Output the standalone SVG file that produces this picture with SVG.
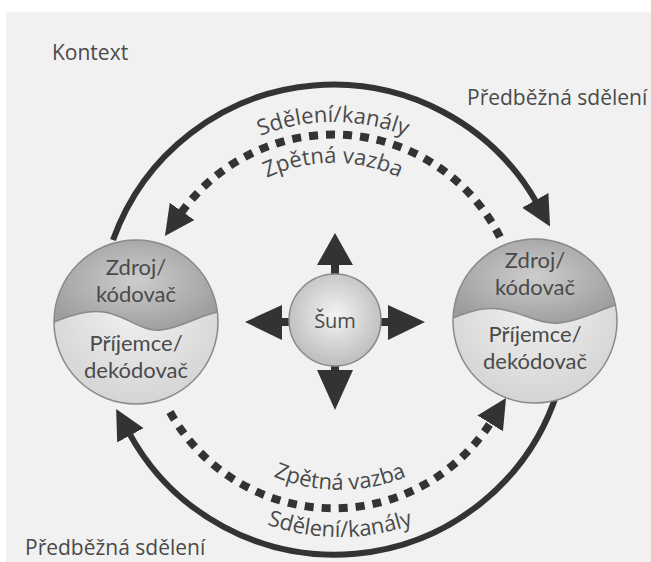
<svg xmlns="http://www.w3.org/2000/svg" width="651" height="562" viewBox="0 0 651 562">
<style>
.lbl{font-family:"Open Sans","DejaVu Sans",sans-serif;fill:#4a4a4a}
.ctx{font-size:21px}
.node{font-family:Lato,"Open Sans",sans-serif;font-size:22px;text-anchor:middle;fill:#4a4a4a}
.arc{fill:none;stroke:#333;stroke-width:6}
.dash{fill:none;stroke:#333;stroke-width:8;stroke-dasharray:9 8}
.ring{stroke:#8a8a8a;stroke-width:1.5}
.noise{fill:#333}
</style>
<defs>
<marker id="ah" viewBox="0 0 30 30" markerWidth="30" markerHeight="30" markerUnits="userSpaceOnUse" refX="4" refY="15" orient="auto">
<path d="M0,0 L30,15 L0,30 Z" fill="#333"/>
</marker>
<radialGradient id="gTop" cx="50%" cy="45%" r="60%">
<stop offset="0" stop-color="#cdcdcd"/>
<stop offset="1" stop-color="#9c9c9c"/>
</radialGradient>
<radialGradient id="gBot" cx="50%" cy="40%" r="65%">
<stop offset="0" stop-color="#f2f2f2"/>
<stop offset="1" stop-color="#d2d2d2"/>
</radialGradient>
<radialGradient id="gSum" cx="50%" cy="45%" r="55%">
<stop offset="0" stop-color="#f4f4f4"/>
<stop offset="1" stop-color="#bdbdbd"/>
</radialGradient>
<path id="tTop1" d="M148.8,251 A196,196 0 0 1 517.2,251"/>
<path id="tTop2" d="M187.3,265 A155,155 0 0 1 478.7,265"/>
<path id="tBot1" d="M178.4,376.8 A172,172 0 0 0 501.6,376.8"/>
<path id="tBot2" d="M134.2,392.9 A219,219 0 0 0 545.8,392.9"/>
</defs>
<rect width="651" height="562" fill="#ffffff"/>
<rect x="6" y="12" width="645" height="550" fill="#f1f1f1"/>

<g id="connectors">
<path class="arc" d="M113,240 A234,234 0 0 1 537.3,203.8" marker-end="url(#ah)"/>
<path class="arc" d="M557,393 A234,234 0 0 1 128.5,431.8" marker-end="url(#ah)"/>
<path class="dash" d="M500,237 A187,187 0 0 0 179.8,214.7" marker-end="url(#ah)"/>
<path class="dash" d="M170,412 A187,187 0 0 0 492.3,420" marker-end="url(#ah)"/>
</g>

<g id="arc-labels" class="lbl" font-size="22">
<text text-anchor="middle"><textPath href="#tTop1" startOffset="50%">Sdělení/kanály</textPath></text>
<text text-anchor="middle"><textPath href="#tTop2" startOffset="50%">Zpětná vazba</textPath></text>
<text text-anchor="middle"><textPath href="#tBot1" startOffset="50%">Zpětná vazba</textPath></text>
<text text-anchor="middle"><textPath href="#tBot2" startOffset="50%">Sdělení/kanály</textPath></text>
</g>

<g id="context-labels" class="lbl ctx">
<text x="52" y="60">Kontext</text>
<text x="467" y="105">Předběžná sdělení</text>
<text x="25" y="555">Předběžná sdělení</text>
</g>

<g id="node-left">
<g transform="translate(136,322)">
<circle r="82" fill="url(#gBot)"/>
<path d="M-82,0 C-62,-8 -48,-12 -32,-10 C-8,-6 5,10 25,8 C45,6 62,-6 81.4,-10 A82,82 0 0 0 -82,0 Z" fill="url(#gTop)"/>
<path d="M-82,0 C-62,-8 -48,-12 -32,-10 C-8,-6 5,10 25,8 C45,6 62,-6 81.4,-10" fill="none" stroke="#8a8a8a" stroke-width="1.5"/>
<circle r="82" fill="none" class="ring"/>
</g>
<text class="node"><tspan x="136" y="275">Zdroj/</tspan><tspan x="136" y="302">kódovač</tspan></text>
<text class="node"><tspan x="136" y="351">Příjemce/</tspan><tspan x="136" y="378">dekódovač</tspan></text>
</g>

<g id="node-right">
<g transform="translate(535,321)">
<circle r="82" fill="url(#gBot)"/>
<path d="M-82,-3 C-62,-11 -50,-14 -35,-12 C-10,-8 5,4 25,2 C45,0 62,-10 80.4,-16 A82,82 0 0 0 -82,-3 Z" fill="url(#gTop)"/>
<path d="M-82,-3 C-62,-11 -50,-14 -35,-12 C-10,-8 5,4 25,2 C45,0 62,-10 80.4,-16" fill="none" stroke="#8a8a8a" stroke-width="1.5"/>
<circle r="82" fill="none" class="ring"/>
</g>
<text class="node"><tspan x="535" y="268">Zdroj/</tspan><tspan x="535" y="295">kódovač</tspan></text>
<text class="node"><tspan x="535" y="342">Příjemce/</tspan><tspan x="535" y="369">dekódovač</tspan></text>
</g>

<g id="node-noise">
<polygon class="noise" points="335,233 353,265 339,265 339,278 331,278 331,265 317,265"/>
<polygon class="noise" points="335,410 353,370 339,370 339,362 331,362 331,370 317,370"/>
<polygon class="noise" points="245,322 282,305 282,318 294,318 294,326 282,326 282,340"/>
<polygon class="noise" points="425,322 388,305 388,318 376,318 376,326 388,326 388,340"/>
<circle cx="335" cy="320" r="46" fill="url(#gSum)" class="ring"/>
<text class="lbl" x="335" y="328" font-size="20" text-anchor="middle">Šum</text>
</g>
</svg>
